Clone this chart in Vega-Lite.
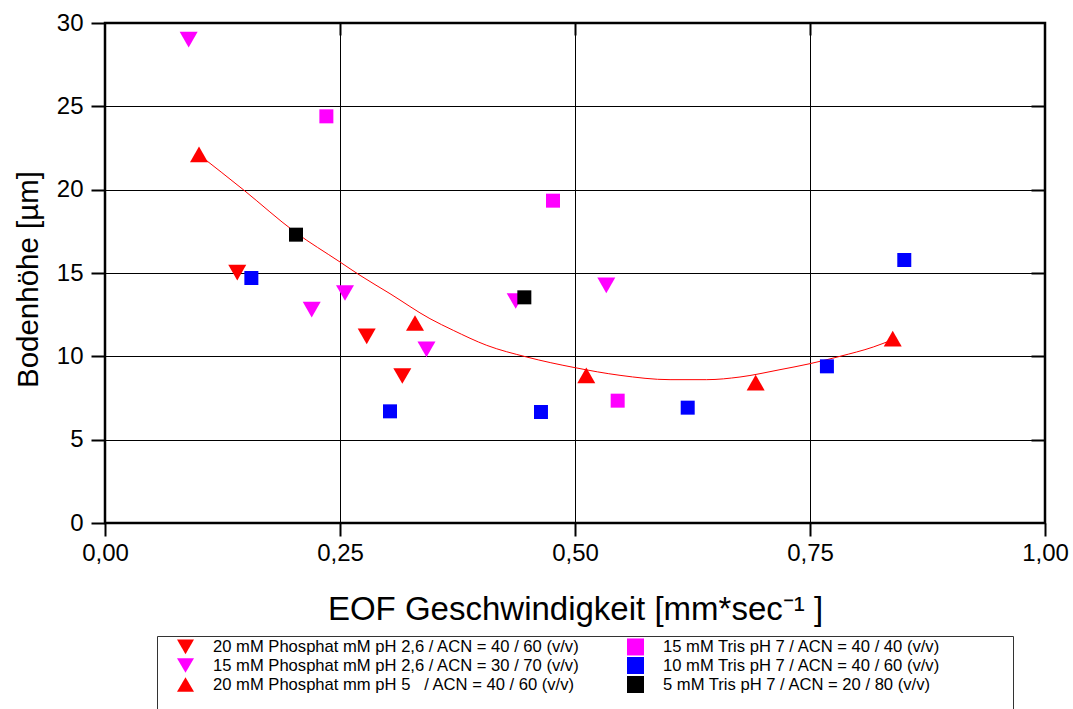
{
  "$schema": "https://vega.github.io/schema/vega-lite/v6.json",
  "width": 940,
  "height": 500,
  "autosize": {"type": "none"},
  "padding": {"left": 105, "top": 23, "right": 28, "bottom": 186},
  "background": "white",
  "config": {
    "view": {"stroke": "black", "strokeWidth": 2.5},
    "font": "Liberation Sans"
  },
  "datasets": {
    "triangles": [
      {"series": "20 mM Phosphat mM pH 2,6 / ACN = 40 / 60 (v/v)", "x": 0.1407, "y": 15.02},
      {"series": "20 mM Phosphat mM pH 2,6 / ACN = 40 / 60 (v/v)", "x": 0.2784, "y": 11.2},
      {"series": "20 mM Phosphat mM pH 2,6 / ACN = 40 / 60 (v/v)", "x": 0.3163, "y": 8.82},
      {"series": "15 mM Phosphat mM pH 2,6 / ACN = 30 / 70 (v/v)", "x": 0.089, "y": 29.0},
      {"series": "15 mM Phosphat mM pH 2,6 / ACN = 30 / 70 (v/v)", "x": 0.2199, "y": 12.8},
      {"series": "15 mM Phosphat mM pH 2,6 / ACN = 30 / 70 (v/v)", "x": 0.2553, "y": 13.8},
      {"series": "15 mM Phosphat mM pH 2,6 / ACN = 30 / 70 (v/v)", "x": 0.342, "y": 10.42},
      {"series": "15 mM Phosphat mM pH 2,6 / ACN = 30 / 70 (v/v)", "x": 0.4369, "y": 13.32},
      {"series": "15 mM Phosphat mM pH 2,6 / ACN = 30 / 70 (v/v)", "x": 0.5333, "y": 14.26},
      {"series": "20 mM Phosphat mm pH 5\u00a0\u00a0 / ACN = 40 / 60 (v/v)", "x": 0.1, "y": 22.12},
      {"series": "20 mM Phosphat mm pH 5\u00a0\u00a0 / ACN = 40 / 60 (v/v)", "x": 0.3298, "y": 12.0},
      {"series": "20 mM Phosphat mm pH 5\u00a0\u00a0 / ACN = 40 / 60 (v/v)", "x": 0.512, "y": 8.86},
      {"series": "20 mM Phosphat mm pH 5\u00a0\u00a0 / ACN = 40 / 60 (v/v)", "x": 0.6922, "y": 8.42},
      {"series": "20 mM Phosphat mm pH 5\u00a0\u00a0 / ACN = 40 / 60 (v/v)", "x": 0.838, "y": 11.06}
    ],
    "squares": [
      {"series": "15 mM Tris pH 7 / ACN = 40 / 40 (v/v)", "x": 0.2355, "y": 24.4},
      {"series": "15 mM Tris pH 7 / ACN = 40 / 40 (v/v)", "x": 0.4766, "y": 19.34},
      {"series": "15 mM Tris pH 7 / ACN = 40 / 40 (v/v)", "x": 0.5454, "y": 7.34},
      {"series": "10 mM Tris pH 7 / ACN = 40 / 60 (v/v)", "x": 0.1557, "y": 14.7},
      {"series": "10 mM Tris pH 7 / ACN = 40 / 60 (v/v)", "x": 0.3032, "y": 6.7},
      {"series": "10 mM Tris pH 7 / ACN = 40 / 60 (v/v)", "x": 0.4638, "y": 6.66},
      {"series": "10 mM Tris pH 7 / ACN = 40 / 60 (v/v)", "x": 0.6199, "y": 6.92},
      {"series": "10 mM Tris pH 7 / ACN = 40 / 60 (v/v)", "x": 0.768, "y": 9.4},
      {"series": "10 mM Tris pH 7 / ACN = 40 / 60 (v/v)", "x": 0.8503, "y": 15.78},
      {"series": "\u00a0\u00a05 mM Tris pH 7 / ACN = 20 / 80 (v/v)", "x": 0.2032, "y": 17.3},
      {"series": "\u00a0\u00a05 mM Tris pH 7 / ACN = 20 / 80 (v/v)", "x": 0.4461, "y": 13.54}
    ],
    "fit": [
      {"x": 0.1, "y": 22.1},
      {"x": 0.1471, "y": 20.0},
      {"x": 0.2021, "y": 17.46},
      {"x": 0.25, "y": 15.66},
      {"x": 0.2713, "y": 14.86},
      {"x": 0.3032, "y": 13.76},
      {"x": 0.3457, "y": 12.26},
      {"x": 0.3705, "y": 11.56},
      {"x": 0.4061, "y": 10.66},
      {"x": 0.4486, "y": 9.96},
      {"x": 0.5, "y": 9.32},
      {"x": 0.5479, "y": 8.86},
      {"x": 0.6011, "y": 8.6},
      {"x": 0.6401, "y": 8.6},
      {"x": 0.6755, "y": 8.76},
      {"x": 0.7181, "y": 9.2},
      {"x": 0.75, "y": 9.56},
      {"x": 0.7819, "y": 10.0},
      {"x": 0.8173, "y": 10.56},
      {"x": 0.838, "y": 11.0}
    ]
  },
  "layer": [
    {
      "data": {"name": "fit"},
      "mark": {"type": "line", "color": "#ff0000", "strokeWidth": 1, "interpolate": "monotone"},
      "encoding": {
        "x": {
          "field": "x", "type": "quantitative",
          "scale": {"domain": [0, 1], "nice": false, "zero": false},
          "axis": {
            "orient": "bottom",
            "values": [0, 0.25, 0.5, 0.75, 1],
            "labelExpr": "replace(format(datum.value, '.2f'), '.', ',')",
            "grid": true, "gridColor": "black", "gridWidth": 1, "gridOpacity": 1,
            "domain": false,
            "ticks": true, "tickColor": "black", "tickSize": 13, "tickWidth": 2,
            "labelFont": "Liberation Sans", "labelFontSize": 24, "labelColor": "black",
            "labelPadding": 5, "labelFlush": false, "labelOverlap": false,
            "title": "EOF Geschwindigkeit [mm*sec\u207b\u00b9 ]",
            "titleFont": "Liberation Sans", "titleFontSize": 33, "titleFontWeight": "normal",
            "titleColor": "black", "titlePadding": 28
          }
        },
        "y": {
          "field": "y", "type": "quantitative",
          "scale": {"domain": [0, 30], "nice": false, "zero": false},
          "axis": {
            "orient": "left",
            "values": [0, 5, 10, 15, 20, 25, 30],
            "grid": true, "gridColor": "black", "gridWidth": 1, "gridOpacity": 1,
            "domain": false,
            "ticks": true, "tickColor": "black", "tickSize": 14, "tickWidth": 2,
            "labelFont": "Liberation Sans", "labelFontSize": 24, "labelColor": "black",
            "labelPadding": 8, "labelFlush": false, "labelOverlap": false,
            "title": "Bodenhöhe [µm]",
            "titleFont": "Liberation Sans", "titleFontSize": 29.5, "titleFontWeight": "normal",
            "titleColor": "black", "titleX": -77, "titleY": 256,
            "titleAlign": "center", "titleBaseline": "middle", "titleAngle": 270
          }
        }
      }
    },
    {
      "data": {"name": "triangles"},
      "mark": {"type": "point", "filled": true, "opacity": 1, "size": 324, "strokeWidth": 0},
      "encoding": {
        "x": {
          "field": "x", "type": "quantitative",
          "axis": {
            "orient": "top", "values": [0.25, 0.5, 0.75], "labels": false, "grid": false,
            "domain": false, "ticks": true, "tickColor": "black", "tickSize": -12, "tickWidth": 2, "title": null
          }
        },
        "y": {
          "field": "y", "type": "quantitative",
          "axis": {
            "orient": "right", "values": [5, 10, 15, 20, 25], "labels": false, "grid": false,
            "domain": false, "ticks": true, "tickColor": "black", "tickSize": -14, "tickWidth": 2, "title": null
          }
        },
        "color": {
          "field": "series", "type": "nominal",
          "scale": {
            "domain": [
              "20 mM Phosphat mM pH 2,6 / ACN = 40 / 60 (v/v)",
              "15 mM Tris pH 7 / ACN = 40 / 40 (v/v)",
              "15 mM Phosphat mM pH 2,6 / ACN = 30 / 70 (v/v)",
              "10 mM Tris pH 7 / ACN = 40 / 60 (v/v)",
              "20 mM Phosphat mm pH 5\u00a0\u00a0 / ACN = 40 / 60 (v/v)",
              "\u00a0\u00a05 mM Tris pH 7 / ACN = 20 / 80 (v/v)"
            ],
            "range": ["#ff0000", "#ff00ff", "#ff00ff", "#0000ff", "#ff0000", "#000000"]
          },
          "legend": {
            "title": "\u00a0",
            "titleOrient": "right", "titleFontSize": 150, "titleBaseline": "top", "titlePadding": 72,
            "orient": "none", "legendX": 52, "legendY": 613,
            "columns": 2, "direction": "horizontal", "gridAlign": "each",
            "columnPadding": 28, "rowPadding": 0, "padding": 1,
            "strokeColor": "#333333",
            "symbolOffset": 18, "labelOffset": 18, "symbolSize": 289,
            "labelFont": "Liberation Sans", "labelFontSize": 16.6, "labelColor": "black", "labelLimit": 0,
            "encode": {
              "legend": {"update": {"strokeWidth": {"value": 2}}},
              "symbols": {
                "update": {
                  "shape": {"signal": "indexof(datum.value, 'pH 5') >= 0 ? 'M-2.4,0.32L2.4,0.32L2.4,0.2L-2.4,0.2Z M0,-0.87L1,0.87L-1,0.87Z' : scale('shape', datum.value)"},
                  "size": {"signal": "indexof(datum.value, 'Tris') >= 0 ? 150 : 260"},
                  "strokeWidth": {"value": 0}
                }
              }
            }
          }
        },
        "shape": {
          "field": "series", "type": "nominal",
          "scale": {
            "domain": [
              "20 mM Phosphat mM pH 2,6 / ACN = 40 / 60 (v/v)",
              "15 mM Tris pH 7 / ACN = 40 / 40 (v/v)",
              "15 mM Phosphat mM pH 2,6 / ACN = 30 / 70 (v/v)",
              "10 mM Tris pH 7 / ACN = 40 / 60 (v/v)",
              "20 mM Phosphat mm pH 5\u00a0\u00a0 / ACN = 40 / 60 (v/v)",
              "\u00a0\u00a05 mM Tris pH 7 / ACN = 20 / 80 (v/v)"
            ],
            "range": ["triangle-down", "square", "triangle-down", "square", "triangle-up", "square"]
          }
        }
      }
    },
    {
      "data": {"name": "squares"},
      "mark": {"type": "point", "filled": true, "opacity": 1, "size": 196, "strokeWidth": 0},
      "encoding": {
        "x": {"field": "x", "type": "quantitative", "axis": null},
        "y": {"field": "y", "type": "quantitative", "axis": null},
        "color": {"field": "series", "type": "nominal"},
        "shape": {"field": "series", "type": "nominal"}
      }
    }
  ],
  "resolve": {"axis": {"x": "independent", "y": "independent"}}
}
